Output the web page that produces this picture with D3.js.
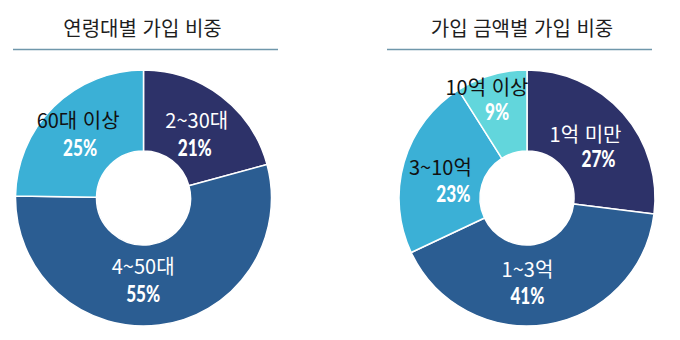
<!DOCTYPE html>
<html lang="ko">
<head>
<meta charset="utf-8">
<script src="https://cdn.jsdelivr.net/npm/d3@7"></script>
<style>
  html, body { margin: 0; padding: 0; background: #ffffff; }
  svg { display: block; }
</style>
</head>
<body>
<svg id="chart" width="680" height="340"></svg>
<script>
// 연령대별 가입 비중
const ageTitle = "연령대별 가입 비중";
const ageCategories = ["2~30대", "4~50대", "60대 이상"];
const ageValues = [21, 55, 25];

// 가입 금액별 가입 비중
const amountTitle = "가입 금액별 가입 비중";
const amountCategories = ["1억 미만", "1~3억", "3~10억", "10억 이상"];
const amountValues = [27, 41, 23, 9];

const svg = d3.select("#chart");

const palette = {
  navy: "#2d3269",
  blue: "#2b5d92",
  sky: "#3bb0d6",
  aqua: "#62d6dc"
};

// Fill and name-label colour of each slice
const sliceStyle = {
  "2~30대":   { fill: palette.navy, text: "#ffffff" },
  "4~50대":   { fill: palette.blue, text: "#ffffff" },
  "60대 이상": { fill: palette.sky,  text: "#111111" },
  "1억 미만":  { fill: palette.navy, text: "#ffffff" },
  "1~3억":    { fill: palette.blue, text: "#ffffff" },
  "3~10억":   { fill: palette.sky,  text: "#111111" },
  "10억 이상": { fill: palette.aqua, text: "#111111" }
};

// Label placement relative to each slice centroid: name offset (dx, dy),
// percentage offset from the name (px, py)
const labelNudge = {
  "2~30대":   { dx: 1,   dy: -2,  px: -2, py: 28 },
  "4~50대":   { dx: -11, dy: -9,  px: 0,  py: 28 },
  "60대 이상": { dx: -5,  dy: -9,  px: 2,  py: 28 },
  "1억 미만":  { dx: -6,  dy: 1,   px: 13, py: 25 },
  "1~3억":    { dx: -13, dy: -6,  px: 0,  py: 27 },
  "3~10억":   { dx: -4,  dy: 1,   px: 13, py: 27 },
  "10억 이상": { dx: -16, dy: -20, px: 10, py: 25 }
};

const outerR = 128;
const innerR = 47;
const labelR = 86;

function drawDonut(cx, title, titleCx, ruleX0, ruleX1, categories, values) {
  const g = svg.append("g");

  // Title and rule beneath it
  g.append("text")
    .attr("x", titleCx)
    .attr("y", 36)
    .attr("text-anchor", "middle")
    .attr("font-family", "'Noto Sans CJK KR', 'Noto Sans', sans-serif")
    .attr("font-weight", 400)
    .attr("font-size", 20)
    .attr("fill", "#1e1e1e")
    .text(title);

  g.append("line")
    .attr("x1", ruleX0).attr("x2", ruleX1)
    .attr("y1", 49.5).attr("y2", 49.5)
    .attr("stroke", "#6f97ab")
    .attr("stroke-width", 1.6);

  const data = categories.map((c, i) => ({ name: c, value: values[i] }));
  const pie = d3.pie().sort(null).value(d => d.value);
  const arcs = pie(data);

  const arc = d3.arc().innerRadius(innerR).outerRadius(outerR);
  const labelArc = d3.arc().innerRadius(labelR).outerRadius(labelR);

  const donut = g.append("g").attr("transform", `translate(${cx},198)`);

  donut.selectAll("path")
    .data(arcs)
    .join("path")
    .attr("d", arc)
    .attr("fill", d => sliceStyle[d.data.name].fill)
    .attr("stroke", "#ffffff")
    .attr("stroke-width", 1.5)
    .attr("stroke-linejoin", "round");

  const labels = donut.selectAll("g.label")
    .data(arcs)
    .join("g")
    .attr("class", "label")
    .attr("transform", d => {
      const [x, y] = labelArc.centroid(d);
      const n = labelNudge[d.data.name];
      return `translate(${x + n.dx},${y + n.dy})`;
    });

  labels.append("text")
    .attr("text-anchor", "middle")
    .attr("font-family", "'Noto Sans CJK KR', 'Noto Sans', sans-serif")
    .attr("font-weight", 400)
    .attr("font-size", 20)
    .attr("fill", d => sliceStyle[d.data.name].text)
    .text(d => d.data.name);

  labels.append("text")
    .attr("text-anchor", "middle")
    .attr("transform", d => {
      const n = labelNudge[d.data.name];
      return `translate(${n.px},${n.py}) scale(0.78,1)`;
    })
    .attr("font-family", "Lato, 'Noto Sans', sans-serif")
    .attr("font-weight", 900)
    .attr("font-size", 22)
    .attr("fill", "#ffffff")
    .text(d => d.data.value + "%");
}

drawDonut(143.5, ageTitle, 142.5, 13, 278, ageCategories, ageValues);
drawDonut(527, amountTitle, 522, 387, 652, amountCategories, amountValues);
</script>
</body>
</html>
